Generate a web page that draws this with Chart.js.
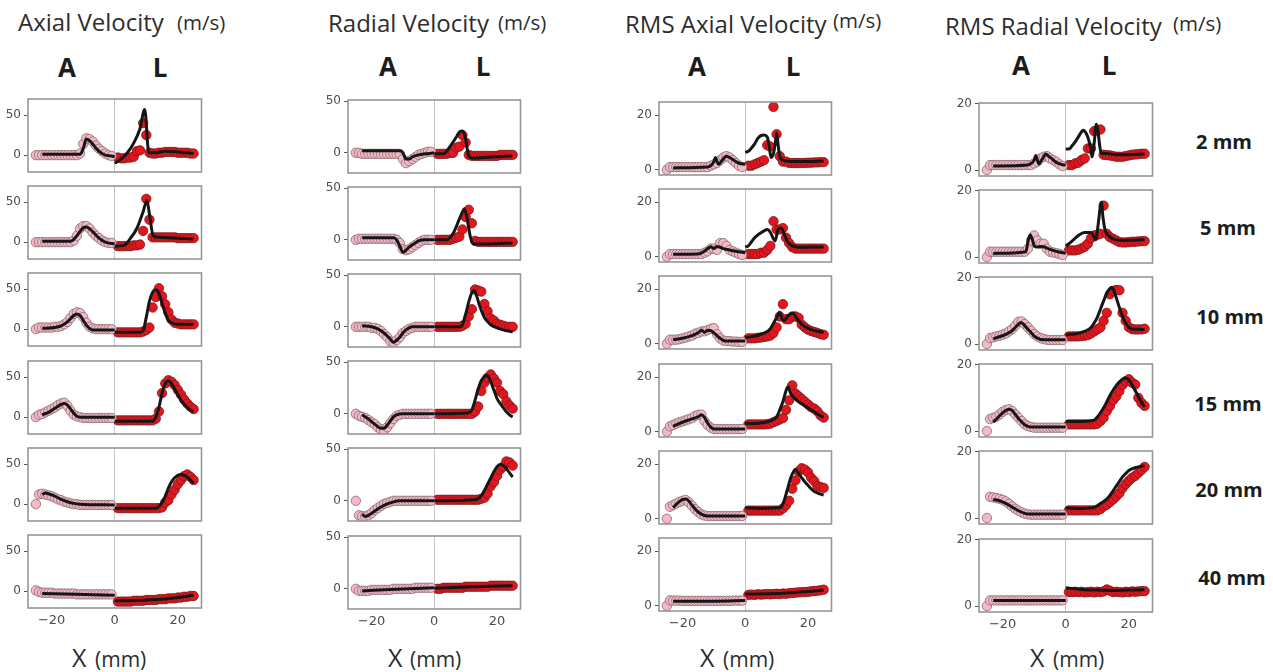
<!DOCTYPE html>
<html>
<head>
<meta charset="utf-8">
<script src="https://cdn.jsdelivr.net/npm/chart.js@4.4.1/dist/chart.umd.min.js"></script>
<style>
    body { margin: 0; width: 1273px; height: 672px; background: #fff; position: relative; overflow: hidden; }
    canvas { position: absolute; }
    svg { position: absolute; left: 0; top: 0; }
</style>
</head>
<body>
<svg id="labels" width="1273" height="672"></svg>
<script>
// text
const columnTitles = ["Axial Velocity", "Radial Velocity", "RMS Axial Velocity", "RMS Radial Velocity"];
const unitText = "(m/s)";
const sideLabels = ["A", "L"];
const depths = ["2 mm", "5 mm", "10 mm", "15 mm", "20 mm", "40 mm"];
const xTitle = "X";
const xUnit = "(mm)";

// ticks
const xTicks = [-20, 0, 20];
const velTicks = [0, 50];
const rmsTicks = [0, 20];

// measurement positions (mm)
const xA = [-25, -24, -23, -22, -21, -20, -19, -18, -17, -16, -15, -14, -13, -12, -11, -10, -9, -8, -7, -6, -5, -4, -3, -2, -1];
const xL = [1, 2, 3, 4, 5, 6, 7, 8, 9, 10, 11, 12, 13, 14, 15, 16, 17, 18, 19, 20, 21, 22, 23, 24, 25];

// ---- Axial velocity: one entry per depth ----
const axialPinkA = [
    [0, 0, 0, 0, 0, 0, 0, 0, 0, 0, 0, 0, 0, 0, 2, 14, 21, 20, 17, 12, 8, 5, 2, 0, -1],
    [0, 0, 0, 0, 0, 0, 0, 0, 0, 0, 0, 0, 2, 8, 17, 20, 20, 17, 12, 8, 5, 2, 0, -1, -1],
    [0, 2, 2, 2, 2, 2, 3, 3, 4, 6, 9, 14, 19, 21, 20, 15, 8, 3, 1, 0, 0, 0, 0, 0, 0],
    [0, 3, 4, 6, 8, 10, 12, 15, 17, 18, 14, 8, 3, 1, 0, -1, -1, -1, -1, -1, -1, -1, -1, -1, -1],
    [0, 12, 13, 12, 11, 10, 8, 6, 5, 3, 2, 1, 0, 0, -1, -1, -1, -1, -1, -1, -1, -1, -1, -1, -1],
    [1, -1, -2, -2, -2, -2, -3, -3, -3, -3, -3, -3, -3, -4, -4, -4, -4, -4, -4, -4, -4, -4, -4, -4, -4]
];
const axialRedL = [
    [-3, -4, -4, -3, -3, -2, 5, 6, 40, 25, 3, 2, 2, 3, 3, 4, 4, 4, 4, 3, 3, 3, 3, 2, 2],
    [-5, -5, -5, -5, -5, -4, -4, -3, 14, 54, 28, 6, 6, 6, 6, 6, 6, 6, 6, 5, 5, 5, 5, 5, 5],
    [-4, -4, -4, -4, -4, -4, -4, -4, -3, -1, 2, 27, 40, 51, 41, 31, 21, 12, 8, 7, 6, 6, 6, 6, 6],
    [-4, -4, -4, -4, -4, -4, -4, -4, -4, -4, -4, -4, -2, 7, 30, 42, 46, 44, 40, 34, 28, 22, 17, 13, 10],
    [-5, -5, -5, -5, -5, -5, -5, -5, -5, -5, -5, -5, -5, -5, -4, 2, 5, 12, 18, 25, 30, 35, 37, 34, 30],
    [-13, -13, -13, -13, -13, -12, -12, -12, -12, -11, -11, -11, -11, -10, -10, -10, -9, -9, -9, -8, -8, -7, -7, -6, -6]
];
const axialLineA = [
    [[-23, 1], [-11, 1], [-10, 8], [-9, 20], [-8, 18], [-7, 14], [-6, 9], [-5, 5], [-4, 2], [-3, 0], [-1, -1], [0, -2]],
    [[-23, 1], [-14, 1], [-12, 8], [-10, 18], [-9, 19], [-7, 13], [-5, 5], [-3, 0], [0, -2]],
    [[-23, 1], [-19, 2], [-17, 4], [-15, 9], [-13, 17], [-12, 19], [-11, 17], [-10, 11], [-9, 5], [-8, 1], [-7, -1], [0, -1]],
    [[-23, 3], [-21, 6], [-19, 11], [-17, 16], [-16, 17], [-15, 15], [-14, 10], [-13, 5], [-12, 1], [-11, 0], [0, 0]],
    [[-23, 12], [-22, 14], [-21, 13], [-19, 10], [-17, 6], [-15, 3], [-13, 1], [-11, 0], [0, -1]],
    [[-23, -3], [-12, -4], [0, -5]]
];
const axialLineL = [
    [[0, -10], [2, -5], [4, 3], [6, 15], [8, 33], [9.5, 57], [10.8, 3], [13, 3], [16, 5], [20, 4], [25, 2]],
    [[0, -5], [3, -4], [5, 5], [7, 17], [9, 38], [10.2, 52], [11, 35], [12.2, 8], [14, 6], [20, 5], [25, 4]],
    [[0, -4], [8, -4], [9, -2], [10, 15], [11, 35], [12, 46], [13, 49], [14, 45], [15, 32], [16, 20], [17, 11], [18, 8], [20, 6], [25, 6]],
    [[0, -5], [12, -5], [13, 0], [14, 12], [15, 30], [16, 42], [17, 45], [18, 42], [19, 35], [20, 28], [21, 21], [22, 16], [23, 12], [24, 9], [25, 7]],
    [[0, -5], [13, -5], [14, -3], [15, 2], [16, 10], [17, 20], [18, 28], [19, 33], [20, 36], [21, 37], [22, 36], [23, 34], [24, 30], [25, 26]],
    [[0, -12], [5, -12], [10, -11], [15, -10], [20, -8], [25, -5]]
];

// ---- Radial velocity ----
const radialPinkA = [
    [0, 0, -1, -1, -1, -1, -1, -1, -1, -1, -1, -1, -1, -1, -1, -6, -10, -8, -6, -4, -2, -1, 0, 1, 1],
    [0, 1, 1, 1, 1, 1, 1, 1, 1, 1, 1, 1, 1, 0, -3, -9, -10, -9, -7, -5, -3, -1, 0, 0, 0],
    [0, 0, 0, 0, 0, -1, -1, -2, -4, -7, -10, -14, -15, -13, -10, -6, -4, -2, -1, 0, 0, 0, 0, 0, 0],
    [0, -2, -3, -4, -6, -8, -10, -13, -15, -16, -13, -9, -5, -2, -1, 0, 0, 0, 0, 0, 0, 0, 0, 0, 0],
    [0, -14, -15, -15, -14, -12, -9, -7, -5, -3, -2, -1, 0, 0, 0, 0, 0, 0, 0, 0, 0, 0, 0, 0, 0],
    [0, -2, -2, -2, -2, -1, -1, -1, -1, -1, -1, -1, 0, 0, 0, 0, 0, 0, 0, 1, 1, 1, 1, 1, 1]
];
const radialRedL = [
    [-1, -1, -1, -1, 0, 0, 5, 6, 17, 10, -2, -3, -3, -3, -3, -3, -3, -3, -3, -3, -2, -2, -2, -2, -2],
    [0, 0, 0, 0, 0, 1, 2, 3, 10, 22, 29, 16, -1, -2, -2, -2, -2, -2, -2, -2, -2, -2, -2, -2, -2],
    [0, 0, 0, 0, 0, 0, 0, 0, 1, 3, 10, 17, 36, 35, 34, 22, 15, 8, 6, 3, 2, 1, 0, 0, 0],
    [0, 0, 0, 0, 0, 0, 0, 0, 0, 0, 0, 0, 2, 7, 22, 30, 35, 38, 34, 30, 22, 19, 12, 8, 5],
    [1, 1, 1, 1, 1, 1, 1, 1, 1, 1, 1, 1, 1, 1, 2, 3, 7, 14, 18, 24, 30, 33, 38, 37, 34],
    [0, 0, 1, 1, 1, 1, 1, 1, 1, 2, 2, 2, 2, 2, 2, 2, 2, 3, 3, 3, 3, 3, 3, 3, 3]
];
const radialLineA = [
    [[-23, 2], [-11, 2], [-10, 0], [-9, -6], [-8, -6], [-7, -4], [-5, -2], [-3, -1], [0, 0]],
    [[-23, 2], [-13, 2], [-12, 0], [-11, -6], [-10, -12], [-9, -10], [-8, -7], [-6, -3], [-5, -1], [-3, 0], [0, 0]],
    [[-23, 1], [-20, 0], [-18, -2], [-16, -6], [-14, -12], [-13, -15], [-12, -13], [-11, -10], [-10, -6], [-9, -3], [-8, -1], [-7, 0], [0, 0]],
    [[-23, -1], [-21, -5], [-19, -10], [-17, -14], [-16, -14], [-15, -11], [-14, -7], [-13, -3], [-12, -1], [-10, 0], [0, 0]],
    [[-23, -13], [-22, -15], [-21, -14], [-19, -10], [-17, -6], [-15, -3], [-13, -1], [-11, 0], [0, 0]],
    [[-23, -2], [-12, -0.5], [0, 1]]
];
const radialLineL = [
    [[0, -1], [3, -1], [5, 6], [7, 15], [8, 20], [9, 21], [9.8, 16], [11, -3], [12, -5], [18, -4], [25, -3]],
    [[0, 0], [4, 0], [6, 6], [8, 20], [9, 27], [9.6, 30], [10.5, 20], [11.5, 3], [12.5, -4], [18, -4], [25, -3]],
    [[0, 0], [8, 0], [9, 2], [10, 12], [11, 24], [12, 33], [12.6, 35], [13.5, 30], [14.5, 20], [16, 9], [17, 5], [18, 2], [20, -1], [22, -3], [25, -5]],
    [[0, 0], [11, 1], [12, 4], [13, 13], [14, 24], [15, 32], [16, 36], [17, 37], [18, 31], [19, 23], [20, 15], [21, 10], [22, 6], [23, 2], [24, -1], [25, -3]],
    [[0, 0], [13, 1], [14, 2], [15, 5], [16, 10], [17, 16], [18, 22], [19, 28], [20, 33], [21, 35], [22, 34], [23, 31], [24, 27], [25, 23]],
    [[0, 0.5], [12, 2], [25, 3]]
];

// ---- RMS axial velocity ----
const rmsAxialPinkA = [
    [0, 1, 1, 1, 1, 1, 1, 1, 1, 1, 1, 1, 1, 1, 1.5, 2, 2.5, 3.5, 4.5, 5, 4.5, 3.5, 2.5, 1.5, 1],
    [0, 1, 1, 1, 1, 1, 1, 1, 1, 1, 1, 1, 1.5, 2, 3, 3, 2.5, 5, 5, 4, 2.5, 2, 1.5, 1, 0.7],
    [0, 1.5, 1.5, 1.5, 1.7, 2, 2.3, 2.7, 3, 3.7, 4, 4.5, 4.6, 5, 5.5, 5.7, 3.5, 2, 1.2, 1, 1, 0.8, 0.8, 0.7, 0.7],
    [0, 2, 2.5, 3, 3.5, 3.8, 4.2, 4.6, 5, 5.8, 6.2, 6.3, 4, 2.5, 1.5, 1, 1, 1, 1, 1, 1, 1, 1, 1, 1],
    [0, 4.4, 5, 5.6, 6.2, 6.6, 6.9, 6, 4.8, 3.5, 2.5, 1.6, 1.2, 1, 1, 1, 1, 1, 1, 1, 1, 1, 1, 1, 1],
    [0, 2, 1.9, 1.9, 1.9, 1.8, 1.8, 1.8, 1.8, 1.8, 1.8, 1.8, 1.8, 1.8, 1.8, 1.8, 1.8, 1.8, 1.8, 1.8, 1.8, 1.9, 1.9, 1.9, 1.9]
];
const rmsAxialRedL = [
    [1.5, 1.5, 2, 2.5, 3, 3.5, 9, 8.5, 23, 13, 5, 3, 3, 2.5, 2.5, 2.5, 2.5, 2.5, 2.5, 2.6, 2.6, 2.7, 2.7, 2.8, 2.8],
    [1, 1, 1, 1, 1.5, 1.5, 2.5, 4, 13, 10, 10, 10.5, 7, 5, 3.5, 3, 3, 3, 3, 3, 3, 3, 3, 3, 3],
    [2, 2, 2, 2.2, 2.3, 2.5, 2.7, 3, 4, 6, 10, 14.5, 9, 9, 10, 10, 9.5, 7, 6, 5.2, 4.7, 4.3, 4, 3.5, 3.3],
    [2.7, 2.7, 2.7, 2.7, 2.7, 2.7, 2.8, 3, 3.5, 4, 4.5, 5, 8, 11.5, 17, 14, 13, 12, 11, 10, 9, 8.5, 7.5, 6, 5.2],
    [3, 3, 3, 3, 3, 3, 3, 3, 3, 3, 3, 3.8, 5, 6.6, 11, 14, 17.3, 18.5, 18, 17, 15, 13.8, 12, 11.6, 11.3],
    [4, 4.1, 4, 4.2, 4.1, 4.2, 4.3, 4.2, 4.3, 4.4, 4.3, 4.5, 4.4, 4.6, 4.7, 4.8, 4.9, 5, 5, 5.1, 5.3, 5.4, 5.5, 5.7, 5.9]
];
const rmsAxialLineA = [
    [[-23, 0.7], [-12, 1], [-11, 1.5], [-10, 3], [-9.5, 4.5], [-9, 3], [-8.5, 2], [-8, 2.5], [-7, 4], [-6, 5], [-5, 4.5], [-4, 3.8], [-3, 3], [-2, 2.4], [0, 2]],
    [[-23, 0.9], [-15, 1], [-13, 2], [-12, 3], [-11, 3.7], [-10, 3], [-9, 3.8], [-8, 3.5], [-7, 3], [-5, 2.5], [-3, 2], [0, 1.5]],
    [[-23, 1.5], [-20, 2], [-17, 3], [-15, 4], [-14, 5], [-13, 4.2], [-12, 5], [-11, 4.8], [-10, 4], [-9, 3], [-8, 2], [-7, 1.3], [-6, 1], [0, 1]],
    [[-23, 2], [-20, 3.5], [-17, 4.7], [-15, 5.5], [-14, 6.2], [-13, 5.3], [-12, 3.2], [-11, 1.7], [-10, 1], [0, 1]],
    [[-23, 4.1], [-22, 5.3], [-21, 6.3], [-20, 7], [-19, 7.2], [-18, 6.5], [-17, 5], [-16, 3.6], [-15, 2.5], [-14, 1.7], [-13, 1.2], [-12, 1], [0, 1]],
    [[-23, 1.7], [-10, 1.7], [0, 1.9]]
];
const rmsAxialLineL = [
    [[0, 6.4], [1, 6.8], [2, 8], [3, 9.5], [4, 11.5], [5, 12.5], [6, 12.7], [7, 12], [7.6, 9], [8.2, 4.5], [9, 6], [9.6, 10], [10, 13.5], [10.5, 9], [11, 4.8], [12, 3.5], [15, 3], [20, 3], [25, 3.2]],
    [[0, 3.6], [1, 4], [2, 5.5], [3, 7], [4, 8], [5, 8.8], [6, 9.5], [7, 10], [8, 9], [9, 6.5], [9.5, 5.8], [10.5, 10], [11.5, 10.5], [12.5, 8], [13.5, 5.5], [15, 4], [18, 3.5], [25, 3.6]],
    [[0, 2.3], [3, 2.8], [5, 3.5], [7, 4.5], [8, 5.5], [9, 7.5], [10, 9.5], [11, 11.5], [11.8, 9], [12.5, 8.5], [13.5, 10], [14.5, 11], [15.3, 11.2], [16, 10], [17, 8.5], [18, 7.2], [19, 6.3], [20, 5.7], [21, 5.2], [23, 4.6], [25, 4.2]],
    [[0, 3], [5, 3.2], [8, 4], [10, 5.5], [11, 8], [12, 11], [13, 15], [13.6, 16.5], [14.5, 14], [15.5, 12.5], [17, 11], [19, 9.5], [21, 8], [23, 6.5], [25, 5.3]],
    [[0, 4], [5, 3.8], [10, 4], [11.5, 4.3], [12.5, 7], [13.5, 11], [14.5, 15], [15.5, 17.5], [16, 18], [17, 16.5], [18, 15], [19, 13.5], [20, 12.3], [21, 11], [22, 10], [23, 9.5], [24, 9], [25, 8.7]],
    [[0, 4.3], [10, 4.5], [15, 4.8], [20, 5.2], [25, 5.8]]
];

// ---- RMS radial velocity ----
const rmsRadialPinkA = [
    [0, 1.5, 1.5, 1.5, 1.5, 1.5, 1.5, 1.5, 1.5, 1.5, 1.5, 1.5, 1.5, 1.5, 1.5, 2, 2.5, 3.5, 4, 4.2, 3.5, 3, 2.5, 1.7, 1.2],
    [0, 1.6, 1.6, 1.6, 1.6, 1.6, 1.6, 1.6, 1.6, 1.6, 1.6, 1.6, 1.6, 2.5, 5, 6.5, 5, 4, 4, 2.5, 1.6, 1.4, 1.2, 0.9, 0.6],
    [0, 1.8, 2, 2.3, 2.5, 2.8, 3.2, 3.8, 4.5, 5.5, 6.7, 6.8, 6, 5, 4, 3, 2.3, 1.8, 1.5, 1.3, 1.2, 1.2, 1.2, 1.2, 1.2],
    [0, 3.6, 4, 4.3, 5, 5.8, 6.3, 6.6, 6, 5, 4, 3, 2, 1.5, 1.2, 1, 1, 1, 1, 1, 1, 1, 1, 1, 1],
    [0, 6.4, 6.2, 6, 5.8, 5.5, 5, 4.3, 3.5, 2.8, 2.2, 1.7, 1.3, 1.1, 1, 1, 1, 1, 1, 1, 1, 1, 1, 1, 1],
    [0, 1.7, 1.7, 1.7, 1.7, 1.7, 1.7, 1.7, 1.7, 1.7, 1.7, 1.7, 1.7, 1.7, 1.7, 1.7, 1.7, 1.7, 1.7, 1.7, 1.7, 1.7, 1.7, 1.7, 1.7]
];
const rmsRadialRedL = [
    [1.5, 1.5, 2, 2.2, 3, 3.5, 6.5, 6.5, 11.7, 12, 12.2, 4.6, 4.5, 4.4, 4.2, 4, 4, 4, 4.2, 4.4, 4.6, 4.7, 4.8, 4.9, 4.9],
    [2, 2, 2, 2.2, 2.6, 3.1, 4, 5.7, 6.5, 6.7, 7, 15.5, 7, 6, 5.5, 5, 4.5, 4.4, 4.4, 4.5, 4.6, 4.6, 4.7, 4.8, 4.8],
    [2.3, 2.3, 2.3, 2.3, 2.4, 2.5, 2.7, 3.2, 3.8, 4.4, 5, 7, 9.4, 15, 16, 16.3, 16.2, 9.4, 7, 5.1, 4.5, 4.4, 4.4, 4.4, 4.6],
    [2, 2, 2, 2, 2, 2, 2, 2, 2, 2.2, 3, 4, 6, 7.5, 9.3, 10.4, 12, 13.9, 15, 15.6, 14.6, 14, 10, 8.5, 7.6],
    [2.3, 2.3, 2.3, 2.3, 2.3, 2.3, 2.3, 2.3, 2.3, 2.3, 2.7, 3.5, 4, 4.8, 5.6, 6.5, 7.5, 9, 10.2, 11.2, 12.1, 12.7, 13.6, 14.5, 15.4],
    [4.2, 4.2, 4.3, 4.2, 4.3, 4.1, 4.2, 4.3, 4.1, 4.3, 4.2, 4.4, 5, 4.6, 4.2, 4.3, 4.2, 4.1, 4.3, 4.2, 4.4, 4.3, 4.4, 4.5, 4.5]
];
const rmsRadialLineA = [
    [[-23, 1.2], [-12, 1.5], [-11, 2], [-10, 3], [-9.5, 4.4], [-9, 3], [-8.5, 1.8], [-8, 2.5], [-7, 4], [-6.3, 4.8], [-5.5, 4.2], [-4.5, 3.5], [-3, 2.3], [-1, 1.6], [0, 1.5]],
    [[-23, 1.1], [-13, 1.5], [-12.5, 2], [-12, 4.5], [-11.3, 6.7], [-10.5, 5], [-10, 3.3], [-9, 3], [-8, 3.2], [-7, 3.1], [-5, 2.3], [-3, 1.7], [0, 1.1]],
    [[-23, 1.6], [-21, 2.2], [-19, 2.9], [-17, 4], [-16, 5], [-15, 6], [-14.3, 6.5], [-13.5, 6.1], [-12.5, 5], [-11, 3.5], [-10, 2.4], [-9, 1.8], [-8, 1.4], [0, 1.3]],
    [[-23, 2.7], [-22, 3.6], [-21, 4.6], [-20, 5.5], [-19, 6.2], [-18, 6.6], [-17, 6.2], [-16, 5], [-15, 3.8], [-14, 2.8], [-13, 1.9], [-12, 1.4], [-11, 1.2], [0, 1.2]],
    [[-23, 5.6], [-21, 5.2], [-19, 4.4], [-17, 3.3], [-15, 2.2], [-13, 1.4], [-12, 1.2], [0, 1.2]],
    [[-23, 1.7], [0, 1.7]]
];
const rmsRadialLineL = [
    [[0, 6.3], [1, 6.3], [2, 7.3], [3, 8.5], [4, 10], [5, 11.5], [5.5, 12], [6.5, 11], [7.3, 9], [7.8, 7], [8.3, 4], [9, 8], [9.7, 13.8], [10.2, 12], [10.8, 7], [11.3, 5], [13, 5], [16, 4.6], [20, 4.6], [25, 4.8]],
    [[0, 3.3], [2, 4.8], [4, 6.5], [6, 7.4], [8, 7.4], [9, 6], [9.5, 5.2], [10.3, 10], [11, 15.5], [11.3, 16.5], [11.8, 12], [12.5, 8], [13.5, 6.5], [15, 5.5], [18, 5], [25, 5.2]],
    [[0, 2.8], [3, 3], [5, 3.5], [7, 4.3], [8, 5], [9, 6.3], [10, 8], [11, 10.5], [12, 13], [13, 15.3], [14, 16.7], [14.6, 17], [15.3, 16], [16, 14], [17, 11], [18, 8.3], [19, 6.3], [20, 5], [21, 4.5], [25, 4.4]],
    [[0, 2.9], [5, 2.9], [9, 3.3], [10, 4.2], [11, 5.5], [12, 7], [13, 8.8], [14, 10.7], [15, 12.3], [16, 13.7], [17, 14.8], [18, 15.6], [19, 16], [20, 15.4], [21, 14], [22, 12.2], [23, 10.4], [24, 8.7], [25, 7.3]],
    [[0, 3], [5, 2.9], [9, 3.2], [10, 3.7], [11, 4.4], [12, 5], [13, 5.7], [14, 6.8], [15, 8.2], [16, 9.6], [17, 11], [18, 12.4], [19, 13.4], [20, 14.3], [21, 14.8], [22, 15.2], [23, 15.4], [24, 15.6], [25, 15.7]],
    [[0, 5.5], [5, 5], [10, 4.8], [15, 4.7], [20, 4.8], [25, 4.9]]
];

// layout (page pixels)
const panelLeft = [28, 348, 659, 979];
const panelWidth = [175, 174, 174, 175];
const firstTop = [99, 99.5, 102, 102.5];
const rowStep = 87.2;
const panelHeight = 73;
const yRange = [[-21, 70], [-19.5, 51], [-1.9, 24.8], [-1.8, 20.2]];
const xRange = [-27.5, 27.5];

const columns = [
    { lineA: axialLineA, lineL: axialLineL, ptsA: axialPinkA, ptsL: axialRedL, yTicks: velTicks },
    { lineA: radialLineA, lineL: radialLineL, ptsA: radialPinkA, ptsL: radialRedL, yTicks: velTicks },
    { lineA: rmsAxialLineA, lineL: rmsAxialLineL, ptsA: rmsAxialPinkA, ptsL: rmsAxialRedL, yTicks: rmsTicks },
    { lineA: rmsRadialLineA, lineL: rmsRadialLineL, ptsA: rmsRadialPinkA, ptsL: rmsRadialRedL, yTicks: rmsTicks }
];

Chart.defaults.font.family = "'DejaVu Sans', sans-serif";
Chart.defaults.animation = false;

const framePlugin = {
    id: "frame",
    afterDraw(chart) {
        const { ctx, chartArea: a } = chart;
        ctx.save();
        ctx.strokeStyle = "#979797";
        ctx.lineWidth = 1.6;
        ctx.strokeRect(a.left, a.top, a.right - a.left, a.bottom - a.top);
        ctx.restore();
    }
};

const minus = v => v < 0 ? "\u2212" + Math.abs(v) : String(v);
const pairs = list => list.map(p => ({ x: p[0], y: p[1] }));

function lineSet(list) {
    return {
        data: pairs(list),
        showLine: true,
        borderColor: "#161616",
        borderWidth: 3,
        pointRadius: 0,
        fill: false,
        cubicInterpolationMode: "monotone",
        order: 0
    };
}

function pointSet(xs, ys, fill, edge) {
    return {
        data: xs.map((x, i) => ({ x: x, y: ys[i] })),
        showLine: false,
        pointRadius: 4.7,
        backgroundColor: fill,
        borderColor: edge,
        borderWidth: 0.8,
        order: 1
    };
}

function makePanel(col, row) {
    const c = columns[col];
    const bottom = row === depths.length - 1;
    const axisW = 36, padTop = 14, padRight = 4;
    const padBottom = bottom ? 4 : 14;
    const axisH = bottom ? 22 : 0;
    const top = firstTop[col] + row * rowStep;

    const canvas = document.createElement("canvas");
    canvas.width = axisW + panelWidth[col] + padRight;
    canvas.height = padTop + panelHeight + axisH + padBottom;
    canvas.style.left = (panelLeft[col] - axisW) + "px";
    canvas.style.top = (top - padTop) + "px";
    document.body.appendChild(canvas);

    new Chart(canvas, {
        type: "scatter",
        data: {
            datasets: [
                lineSet(c.lineA[row]),
                lineSet(c.lineL[row]),
                pointSet(xA, c.ptsA[row], "#f2b9c7", "#8c6870"),
                pointSet(xL, c.ptsL[row], "#e3161f", "#7a1818")
            ]
        },
        options: {
            responsive: false,
            layout: { padding: { top: padTop, right: padRight, bottom: padBottom, left: 0 } },
            plugins: { legend: { display: false }, tooltip: { enabled: false } },
            scales: {
                x: {
                    type: "linear",
                    min: xRange[0],
                    max: xRange[1],
                    afterBuildTicks: s => { s.ticks = xTicks.map(v => ({ value: v })); },
                    afterFit: s => { s.height = axisH; },
                    grid: {
                        drawTicks: false,
                        lineWidth: 1,
                        color: ctx => ctx.tick && ctx.tick.value === 0 ? "#c4c4c4" : "rgba(0,0,0,0)"
                    },
                    border: { display: false },
                    ticks: { display: bottom, padding: 5, color: "#4d4d4d", font: { size: 13 }, callback: v => minus(v) }
                },
                y: {
                    type: "linear",
                    min: yRange[col][0],
                    max: yRange[col][1],
                    afterBuildTicks: s => { s.ticks = c.yTicks.map(v => ({ value: v })); },
                    afterFit: s => { s.width = axisW; },
                    grid: { drawOnChartArea: false, drawTicks: true, tickLength: 4, tickColor: "#555" },
                    border: { display: false },
                    ticks: { padding: 3, color: "#4d4d4d", font: { size: 12 }, callback: v => minus(v) }
                }
            }
        },
        plugins: [framePlugin]
    });
}

columns.forEach((_, col) => depths.forEach((_, row) => makePanel(col, row)));

// text labels (svg, real text)
const svg = document.getElementById("labels");
function addText(str, x, y, size, opts) {
    const t = document.createElementNS("http://www.w3.org/2000/svg", "text");
    t.textContent = str;
    t.setAttribute("x", x);
    t.setAttribute("y", y);
    t.setAttribute("font-size", size);
    t.setAttribute("font-family", "'Open Sans', sans-serif");
    t.setAttribute("fill", (opts && opts.color) || "#2d2d2d");
    if (opts && opts.bold) t.setAttribute("font-weight", "bold");
    if (opts && opts.anchor) t.setAttribute("text-anchor", opts.anchor);
    svg.appendChild(t);
}

const titlePos = [[18, 31], [328, 31.5], [625, 33], [945, 35]];
const unitPos = [[177, 30], [498, 30], [833, 28], [1173, 30.5]];
const sidePos = [[67, 160, 76.5], [388, 483, 76], [697, 793, 76], [1021, 1109, 75]];
const depthPos = [[1224, 148.5], [1228, 235], [1230, 323.5], [1228, 411], [1229, 496.5], [1232, 585]];
const xTitlePos = [[72, 95], [388, 410], [700, 723], [1030, 1053]];

columnTitles.forEach((title, i) => {
    addText(title, titlePos[i][0], titlePos[i][1], 24);
    addText(unitText, unitPos[i][0], unitPos[i][1], 20.5);
    addText(sideLabels[0], sidePos[i][0], sidePos[i][2], 26, { bold: true, anchor: "middle", color: "#1c1c1c" });
    addText(sideLabels[1], sidePos[i][1], sidePos[i][2], 26, { bold: true, anchor: "middle", color: "#1c1c1c" });
    addText(xTitle, xTitlePos[i][0], 667, 25);
    addText(xUnit, xTitlePos[i][1], 667, 21);
});
depths.forEach((d, i) => addText(d, depthPos[i][0], depthPos[i][1], 20, { bold: true, anchor: "middle", color: "#1c1c1c" }));
</script>
</body>
</html>
